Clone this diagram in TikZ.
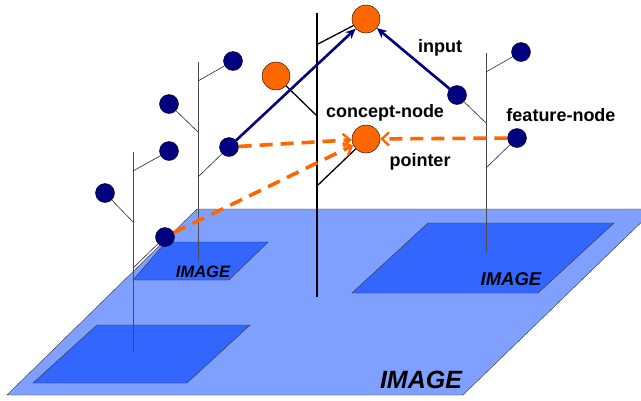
\documentclass[tikz,border=0pt]{standalone}
\usepackage{fontspec}
\setmainfont{Liberation Sans}
\usetikzlibrary{arrows.meta}
\definecolor{planeblue}{RGB}{128,160,255}
\definecolor{imgblue}{RGB}{51,102,255}
\definecolor{conceptorange}{RGB}{255,102,0}
\definecolor{featnavy}{RGB}{0,0,128}

\begin{document}
\begin{tikzpicture}[x=1pt,y=-1pt,
    feat/.style={circle,draw=black,thin,fill=featnavy,minimum size=19pt,inner sep=0pt},
    concept/.style={circle,draw=black,thin,fill=conceptorange,minimum size=28pt,inner sep=0pt},
    trunk/.style={draw=black!70,line width=0.9pt},
    branch/.style={draw=black!85,line width=0.6pt},
    cbranch/.style={draw=black,line width=1.3pt},
    inputarrow/.style={draw=featnavy,line width=2.6pt,-{Stealth[length=10pt,width=9pt]}},
    pointerarrow/.style={draw=conceptorange,line width=3.6pt,dash pattern=on 13pt off 8pt,
      -{Straight Barb[length=7pt,width=13pt,line width=2.4pt]}},
    lbl/.style={font=\fontsize{18}{20}\selectfont\bfseries,anchor=base,inner sep=0pt},
    imglbl/.style={font=\bfseries\itshape,anchor=base,inner sep=0pt}]
  \useasboundingbox (0,0) rectangle (641,400);
  \fill[planeblue,draw=black!80,thin] (7,395) -- (197,209) -- (655,209) -- (463,395) -- cycle;
  \fill[imgblue,draw=black!80,thin] (166,242) -- (268,242) -- (229,280) -- (133,280) -- cycle;
  \fill[imgblue,draw=black!80,thin] (97,325) -- (250,325) -- (187,383) -- (33,383) -- cycle;
  \fill[imgblue,draw=black!80,thin] (428,223) -- (614,223) -- (538,293) -- (352,293) -- cycle;
  \node[imglbl,font=\fontsize{16.5}{18}\selectfont\bfseries\itshape] (imgA) at (203,277) {IMAGE};
  \node[imglbl,font=\fontsize{18.5}{20}\selectfont\bfseries\itshape] (imgC) at (511,285) {IMAGE};
  \node[imglbl,font=\fontsize{25}{28}\selectfont\bfseries\itshape] (imgbig) at (421,388) {IMAGE};

  \draw[trunk] (133,152) -- (133,352);
  \draw[trunk] (198,62) -- (198,261);
  \draw[trunk] (486,53) -- (486,252);
  \draw[draw=black,line width=1.8pt] (317,13) -- (317,297);

  \coordinate (tA1) at (133,171);
  \coordinate (tA2) at (133,222);
  \coordinate (tA3) at (133,268);
  \coordinate (tB1) at (198,81);
  \coordinate (tB2) at (198,132);
  \coordinate (tB3) at (198,177);
  \coordinate (tC1) at (486,72);
  \coordinate (tC2) at (486,123);
  \coordinate (tC3) at (486,168);
  \coordinate (ttop) at (318,44);
  \coordinate (tmid) at (317,116);
  \coordinate (tbot) at (318,185);

  \node[feat] (fA1) at (169,151) {};
  \node[feat] (fA2) at (105,193) {};
  \node[feat] (fA3) at (165,237) {};
  \node[feat] (fB1) at (233,61) {};
  \node[feat] (fB2) at (169,104) {};
  \node[feat] (fB3) at (229,147) {};
  \node[feat] (fC1) at (521,52) {};
  \node[feat] (fC2) at (457,95) {};
  \node[feat] (fC3) at (517,138) {};
  \node[concept] (ctop) at (366,19) {};
  \node[concept] (cmid) at (276,76) {};
  \node[concept] (cbot) at (366,139) {};

  \draw[branch] (tA1) -- (fA1);
  \draw[branch] (tA2) -- (fA2);
  \draw[branch] (tA3) -- (fA3);
  \draw[branch] (tB1) -- (fB1);
  \draw[branch] (tB2) -- (fB2);
  \draw[branch] (tB3) -- (fB3);
  \draw[branch] (tC1) -- (fC1);
  \draw[branch] (tC2) -- (fC2);
  \draw[branch] (tC3) -- (fC3);
  \draw[cbranch] (ttop) -- (ctop);
  \draw[cbranch] (tmid) -- (cmid);
  \draw[cbranch] (tbot) -- (cbot);

  \draw[inputarrow] (fB3) -- (ctop);
  \draw[inputarrow] (fC2) -- (ctop);
  \draw[pointerarrow] (fB3) -- (cbot);
  \draw[pointerarrow] (fA3) -- (cbot);
  \draw[pointerarrow] (fC3) -- (cbot);

  \node[lbl] (inputlbl) at (440,52) {input};
  \node[lbl] (conceptlbl) at (385,117) {concept-node};
  \node[lbl] (pointerlbl) at (420,166) {pointer};
  \node[lbl] (featurelbl) at (561,121) {feature-node};
\end{tikzpicture}
\end{document}
